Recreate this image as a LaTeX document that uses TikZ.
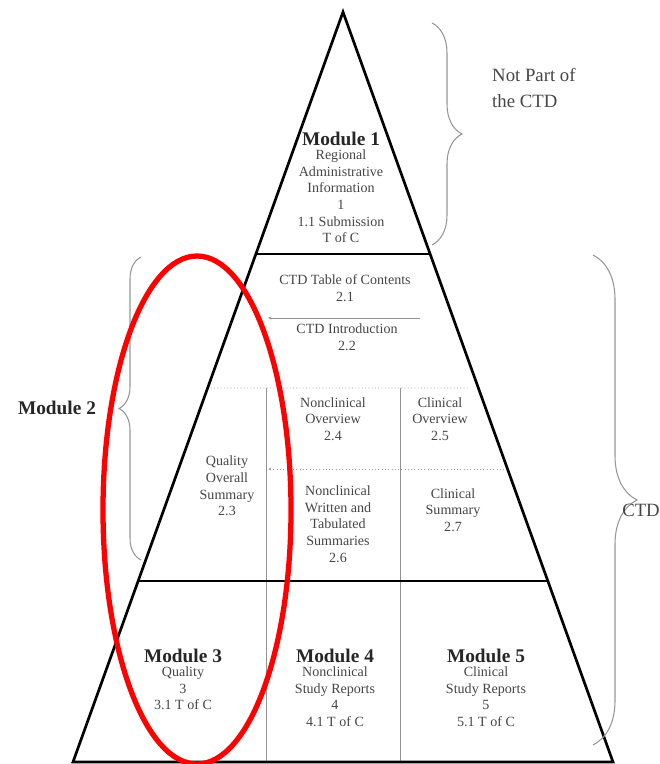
\documentclass[tikz,border=0pt]{standalone}
\usepackage{fontspec}
\setmainfont{Liberation Serif}
\usepackage{xcolor}
\usepackage{tikz}
\usetikzlibrary{arrows.meta,positioning,calc,decorations.pathreplacing}
\definecolor{textgray}{RGB}{70,70,70}
\definecolor{bracegray}{RGB}{150,150,150}

\begin{document}
\begin{tikzpicture}[x=0.03cm,y=-0.03cm,outer/.style={line width=2.3pt,line join=miter},split/.style={draw=gray!85,line width=0.6pt},dots/.style={draw=gray!75,line width=0.8pt,dotted},brc/.style={draw=bracegray,line width=0.9pt,decorate,decoration={brace,amplitude=#1}},lbl/.style={align=center,text=textgray,font=\fontsize{12}{14.2}\selectfont,inner sep=0pt},ttl/.style={align=center,text=black!85,font=\fontsize{16.5}{19}\selectfont\bfseries,inner sep=0.5pt}]
\useasboundingbox (0,0) rectangle (659,764);
\coordinate (apex) at (343,12); \coordinate (bl) at (73,762); \coordinate (br) at (613,762);
\coordinate (m1l) at ($(apex)!0.3227!(bl)$); \coordinate (m1r) at ($(apex)!0.3227!(br)$);
\coordinate (m2l) at ($(apex)!0.7587!(bl)$); \coordinate (m2r) at ($(apex)!0.7587!(br)$);
\coordinate (r1l) at ($(apex)!0.5013!(bl)$); \coordinate (r1r) at (470,388);
\draw[split,{Stealth[length=3pt,width=2.5pt]}-] (268,318) -- (420,318);
\draw[dots] (r1l) -- (r1r);
\draw[dots,{Stealth[length=3pt,width=2.5pt]}-] (268,469) -- (505,469);
\draw[split] (266,388) -- (266,762); \draw[split] (400,388) -- (400,762);
\draw[outer] (apex)--(bl)--(br)--cycle;
\draw[outer] (m1l)--(m1r); \draw[outer] (m2l)--(m2r);
\draw[brc=0.9cm] (432,23) -- (432,245);
\draw[brc=0.66cm] (141,560) -- (141,257);
\draw[brc=1.32cm] (593,255) -- (593,745);
\node[ttl] (m1) at (341,139) {Module 1}; \node[lbl,below=2.5pt of m1] (m1txt) {Regional\\Administrative\\Information\\1\\1.1 Submission\\T of C};
\node[lbl] (toc) at (345,288) {CTD Table of Contents\\2.1}; \node[lbl] (intro) at (347,337) {CTD Introduction\\2.2};
\node[lbl] (ncov) at (333,419) {Nonclinical\\Overview\\2.4}; \node[lbl] (clov) at (440,419) {Clinical\\Overview\\2.5};
\node[lbl] (qos) at (227,486) {Quality\\Overall\\Summary\\2.3};
\node[lbl] (ncsum) at (338,524) {Nonclinical\\Written and\\Tabulated\\Summaries\\2.6}; \node[lbl] (clsum) at (453,510) {Clinical\\Summary\\2.7};
\node[ttl] (m3) at (183,656) {Module 3}; \node[lbl,below=2.5pt of m3] (m3txt) {Quality\\3\\3.1 T of C};
\node[ttl] (m4) at (335,656) {Module 4}; \node[lbl,below=2.5pt of m4] (m4txt) {Nonclinical\\Study Reports\\4\\4.1 T of C};
\node[ttl] (m5) at (486,656) {Module 5}; \node[lbl,below=2.5pt of m5] (m5txt) {Clinical\\Study Reports\\5\\5.1 T of C};
\node[ttl] (m2) at (57,408) {Module 2};
\node[lbl,anchor=west,align=left,font=\fontsize{16}{23}\selectfont] (npc) at (492,88) {Not Part of\\the CTD};
\node[lbl,font=\fontsize{16}{19}\selectfont] (ctd) at (641,510) {CTD};
\draw[red,line width=4.5pt] (197,510) ellipse [x radius=2.82cm,y radius=7.62cm];
\end{tikzpicture}
\end{document}
